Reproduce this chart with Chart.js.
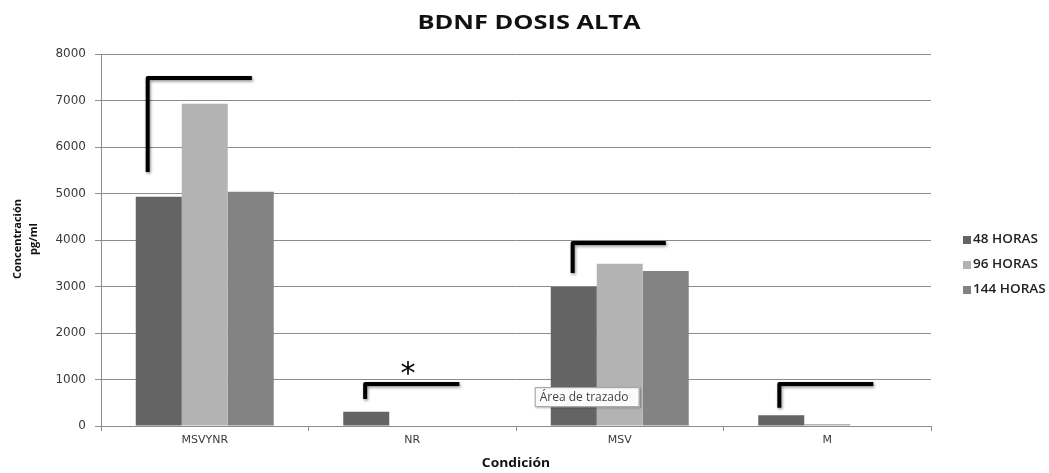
<!DOCTYPE html>
<html>
<head>
<meta charset="utf-8">
<script src="https://cdn.jsdelivr.net/npm/chart.js@4.4.1/dist/chart.umd.min.js"></script>
<style>
  html, body { margin: 0; padding: 0; background: #fff; }
  #wrap { width: 1049px; height: 473px; position: relative; }
</style>
</head>
<body>
<div id="wrap"><canvas id="c" width="1049" height="473"></canvas></div>
<script>
// Conditions and BDNF concentration (pg/ml) per exposure time
const categories = ['MSVYNR', 'NR', 'MSV', 'M'];
const seriesNames = ['48 HORAS', '96 HORAS', '144 HORAS'];
const horas48 = [4930, 305, 2990, 230];
const horas96 = [6930, 0, 3490, 45];
const horas144 = [5035, 0, 3335, 0];
const yTicks = [0, 1000, 2000, 3000, 4000, 5000, 6000, 7000, 8000];

// Comparison brackets: category index, left/right offsets (fraction of category width),
// bottom of vertical stroke and height of horizontal stroke (pg/ml)
const brackets = [
  { cat: 0, from: -0.275, to: 0.227, low: 5460, high: 7485 },
  { cat: 1, from: -0.227, to: 0.227, low: 580, high: 905 },
  { cat: 2, from: -0.227, to: 0.222, low: 3290, high: 3935 },
  { cat: 3, from: -0.231, to: 0.222, low: 390, high: 905 }
];
const marks = [{ cat: 1, dx: -0.02, value: 1270, text: '*' }];

const colors = ['#646464', '#b3b3b3', '#838383'];

// draw text stretched horizontally by sx around its anchor
function wideText(ctx, text, x, y, sx, align) {
  ctx.save();
  ctx.translate(x, y);
  ctx.scale(sx, 1);
  ctx.textAlign = align;
  ctx.fillText(text, 0, 0);
  ctx.restore();
}

const decor = {
  id: 'decor',
  afterDatasetsDraw(chart) {
    const { ctx, chartArea, scales } = chart;
    const x = scales.x, y = scales.y;
    const cw = (chartArea.right - chartArea.left) / categories.length;
    ctx.save();
    // brackets
    brackets.forEach(b => {
      const cx = x.getPixelForValue(b.cat);
      const x0 = cx + b.from * cw, x1 = cx + b.to * cw;
      const y0 = y.getPixelForValue(b.low), y1 = y.getPixelForValue(b.high);
      ctx.shadowColor = 'rgba(0,0,0,0.45)';
      ctx.shadowBlur = 3;
      ctx.shadowOffsetX = 1;
      ctx.shadowOffsetY = 1.5;
      ctx.strokeStyle = '#000';
      ctx.lineWidth = 4;
      ctx.lineJoin = 'round';
      ctx.lineCap = 'butt';
      ctx.beginPath();
      ctx.moveTo(x0, y0);
      ctx.lineTo(x0, y1);
      ctx.lineTo(x1, y1);
      ctx.stroke();
    });
    ctx.shadowColor = 'transparent';
    // significance mark
    marks.forEach(m => {
      const px = x.getPixelForValue(m.cat) + m.dx * cw;
      const py = y.getPixelForValue(m.value);
      ctx.fillStyle = '#000';
      ctx.font = '30px "DejaVu Sans"';
      ctx.textAlign = 'center';
      ctx.textBaseline = 'middle';
      ctx.fillText(m.text, px, py + 8);
    });
    // plot-area hover hint
    const tx = x.getPixelForValue(2) - 0.41 * cw;
    const ty = y.getPixelForValue(835);
    ctx.font = '12px "Open Sans"';
    const tw = ctx.measureText('Área de trazado').width + 16;
    ctx.shadowColor = 'rgba(0,0,0,0.3)';
    ctx.shadowBlur = 2;
    ctx.shadowOffsetX = 1;
    ctx.shadowOffsetY = 1;
    ctx.fillStyle = '#fbfbfb';
    ctx.fillRect(tx, ty, tw, 20);
    ctx.shadowColor = 'transparent';
    ctx.strokeStyle = '#9a9a9a';
    ctx.lineWidth = 1;
    ctx.strokeRect(tx + 0.5, ty + 0.5, tw - 1, 19);
    ctx.fillStyle = '#444';
    ctx.textAlign = 'left';
    ctx.textBaseline = 'middle';
    ctx.fillText('Área de trazado', tx + 5, ty + 10.5);
    ctx.restore();
  },
  afterDraw(chart) {
    const { ctx } = chart;
    ctx.save();
    ctx.fillStyle = '#111';
    ctx.textBaseline = 'middle';
    // title
    ctx.font = 'bold 20px "Open Sans"';
    wideText(ctx, 'BDNF DOSIS ALTA', 529, 23, 1.27, 'center');
    // x axis title
    ctx.font = 'bold 12px "Open Sans"';
    wideText(ctx, 'Condición', 516, 464, 1.15, 'center');
    // y axis title
    ctx.translate(25, 239);
    ctx.rotate(-Math.PI / 2);
    ctx.font = 'bold 11px "Open Sans"';
    ctx.textAlign = 'center';
    ctx.fillText('Concentración', 0, -7);
    ctx.fillText('pg/ml', 0, 9);
    ctx.restore();
    // legend
    ctx.save();
    ctx.textBaseline = 'middle';
    seriesNames.forEach((n, i) => {
      const ly = 240 + i * 25;
      ctx.fillStyle = colors[i];
      ctx.fillRect(963, ly - 4, 8, 8);
      ctx.fillStyle = '#222';
      ctx.font = '600 12px "Open Sans"';
      wideText(ctx, n, 973, ly, 1.13, 'left');
    });
    ctx.restore();
  }
};

new Chart(document.getElementById('c'), {
  type: 'bar',
  data: {
    labels: categories,
    datasets: [
      { label: seriesNames[0], data: horas48, backgroundColor: colors[0] },
      { label: seriesNames[1], data: horas96, backgroundColor: colors[1] },
      { label: seriesNames[2], data: horas144, backgroundColor: colors[2] }
    ]
  },
  options: {
    responsive: false,
    animation: false,
    devicePixelRatio: 1,
    layout: { padding: { top: 54, right: 118, left: 0, bottom: 0 } },
    datasets: { bar: { categoryPercentage: 0.665, barPercentage: 1.0, borderWidth: 0 } },
    plugins: { legend: { display: false }, tooltip: { enabled: false }, title: { display: false } },
    scales: {
      x: {
        grid: { offset: true, drawOnChartArea: false, drawTicks: true, tickLength: 5, color: '#8c8c8c' },
        border: { display: true, color: '#8c8c8c', width: 1 },
        ticks: { color: '#3a3a3a', font: { family: 'DejaVu Sans', size: 11 }, padding: 3 },
        afterFit(s) { s.height = 47; }
      },
      y: {
        min: 0, max: 8000,
        afterBuildTicks(s) { s.ticks = yTicks.map(v => ({ value: v })); },
        grid: { color: '#8c8c8c', tickLength: 6, lineWidth: 1 },
        border: { display: true, color: '#8c8c8c', width: 1 },
        ticks: { color: '#3a3a3a', font: { family: 'DejaVu Sans', size: 12 }, padding: 9, callback: v => String(v) },
        afterFit(s) { s.width = 101; }
      }
    }
  },
  plugins: [decor]
});
</script>
</body>
</html>
